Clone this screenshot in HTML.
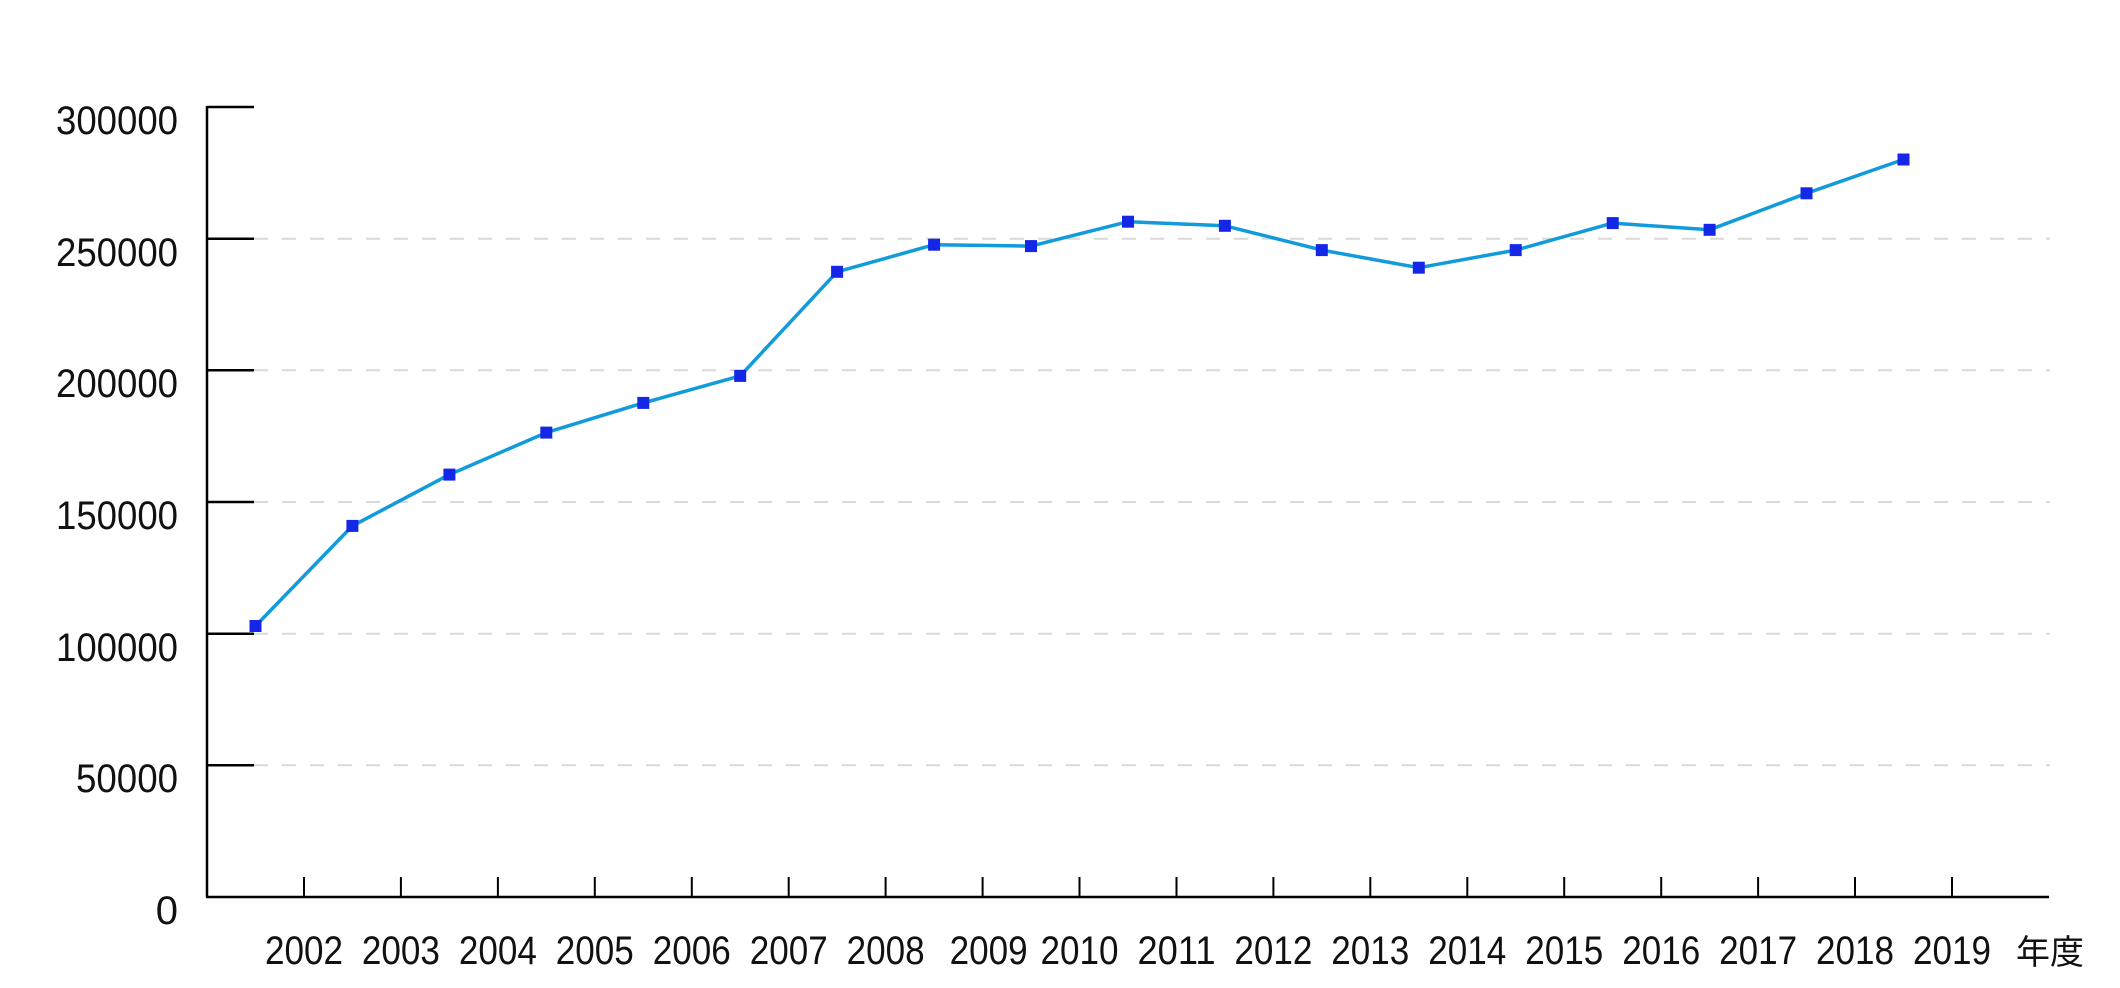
<!DOCTYPE html>
<html><head><meta charset="utf-8"><style>
html,body{margin:0;padding:0;background:#fff;}
svg{display:block;}
text{font-family:"Liberation Sans","Noto Sans CJK JP",sans-serif;font-size:40px;fill:#111;}
</style></head><body>
<svg width="2120" height="988" viewBox="0 0 2120 988" xmlns="http://www.w3.org/2000/svg">
<g stroke="#d9d9d9" stroke-width="2" stroke-dasharray="14,14">
<line x1="254" y1="238.7" x2="2050" y2="238.7"/>
<line x1="254" y1="370.3" x2="2050" y2="370.3"/>
<line x1="254" y1="502" x2="2050" y2="502"/>
<line x1="254" y1="633.7" x2="2050" y2="633.7"/>
<line x1="254" y1="765.3" x2="2050" y2="765.3"/>
</g>
<g stroke="#000" stroke-width="2.5" fill="none">
<line x1="207" y1="106" x2="207" y2="897"/>
<line x1="206" y1="897" x2="2049" y2="897"/>
<line x1="207" y1="107" x2="254" y2="107"/>
<line x1="207" y1="238.7" x2="254" y2="238.7"/>
<line x1="207" y1="370.3" x2="254" y2="370.3"/>
<line x1="207" y1="502" x2="254" y2="502"/>
<line x1="207" y1="633.7" x2="254" y2="633.7"/>
<line x1="207" y1="765.3" x2="254" y2="765.3"/>
</g>
<g stroke="#000" stroke-width="2">
<line x1="304" y1="877" x2="304" y2="897"/>
<line x1="400.9" y1="877" x2="400.9" y2="897"/>
<line x1="497.9" y1="877" x2="497.9" y2="897"/>
<line x1="594.8" y1="877" x2="594.8" y2="897"/>
<line x1="691.8" y1="877" x2="691.8" y2="897"/>
<line x1="788.7" y1="877" x2="788.7" y2="897"/>
<line x1="885.6" y1="877" x2="885.6" y2="897"/>
<line x1="982.6" y1="877" x2="982.6" y2="897"/>
<line x1="1079.5" y1="877" x2="1079.5" y2="897"/>
<line x1="1176.5" y1="877" x2="1176.5" y2="897"/>
<line x1="1273.4" y1="877" x2="1273.4" y2="897"/>
<line x1="1370.3" y1="877" x2="1370.3" y2="897"/>
<line x1="1467.3" y1="877" x2="1467.3" y2="897"/>
<line x1="1564.2" y1="877" x2="1564.2" y2="897"/>
<line x1="1661.2" y1="877" x2="1661.2" y2="897"/>
<line x1="1758.1" y1="877" x2="1758.1" y2="897"/>
<line x1="1855" y1="877" x2="1855" y2="897"/>
<line x1="1952" y1="877" x2="1952" y2="897"/>
</g>
<g text-anchor="end">
<text x="178" y="134" textLength="122" lengthAdjust="spacingAndGlyphs">300000</text>
<text x="178" y="266" textLength="122" lengthAdjust="spacingAndGlyphs">250000</text>
<text x="178" y="397" textLength="122" lengthAdjust="spacingAndGlyphs">200000</text>
<text x="178" y="529" textLength="122" lengthAdjust="spacingAndGlyphs">150000</text>
<text x="178" y="661" textLength="122" lengthAdjust="spacingAndGlyphs">100000</text>
<text x="178" y="792" textLength="102" lengthAdjust="spacingAndGlyphs">50000</text>
<text x="178" y="924">0</text>
</g>
<g text-anchor="middle">
<text x="304" y="964" textLength="78" lengthAdjust="spacingAndGlyphs">2002</text>
<text x="400.9" y="964" textLength="78" lengthAdjust="spacingAndGlyphs">2003</text>
<text x="497.9" y="964" textLength="78" lengthAdjust="spacingAndGlyphs">2004</text>
<text x="594.8" y="964" textLength="78" lengthAdjust="spacingAndGlyphs">2005</text>
<text x="691.8" y="964" textLength="78" lengthAdjust="spacingAndGlyphs">2006</text>
<text x="788.7" y="964" textLength="78" lengthAdjust="spacingAndGlyphs">2007</text>
<text x="885.6" y="964" textLength="78" lengthAdjust="spacingAndGlyphs">2008</text>
<text x="988.6" y="964" textLength="78" lengthAdjust="spacingAndGlyphs">2009</text>
<text x="1079.5" y="964" textLength="78" lengthAdjust="spacingAndGlyphs">2010</text>
<text x="1176.5" y="964" textLength="78" lengthAdjust="spacingAndGlyphs">2011</text>
<text x="1273.4" y="964" textLength="78" lengthAdjust="spacingAndGlyphs">2012</text>
<text x="1370.3" y="964" textLength="78" lengthAdjust="spacingAndGlyphs">2013</text>
<text x="1467.3" y="964" textLength="78" lengthAdjust="spacingAndGlyphs">2014</text>
<text x="1564.2" y="964" textLength="78" lengthAdjust="spacingAndGlyphs">2015</text>
<text x="1661.2" y="964" textLength="78" lengthAdjust="spacingAndGlyphs">2016</text>
<text x="1758.1" y="964" textLength="78" lengthAdjust="spacingAndGlyphs">2017</text>
<text x="1855" y="964" textLength="78" lengthAdjust="spacingAndGlyphs">2018</text>
<text x="1952" y="964" textLength="78" lengthAdjust="spacingAndGlyphs">2019</text>
</g>
<text x="2050" y="964" text-anchor="middle" style="font-size:34px">年度</text>
<polyline fill="none" stroke="#129bdb" stroke-width="3.5" stroke-linejoin="round" points="255.5,626 352.4,525.9 449.4,474.6 546.3,432.6 643.3,402.9 740.2,375.9 837.1,271.8 934.1,244.7 1031,246.1 1128,221.7 1224.9,225.8 1321.8,250.1 1418.8,267.7 1515.7,250.1 1612.7,223.1 1709.6,229.8 1806.5,193.3 1903.5,159.5"/>
<g fill="#1427e6">
<rect x="249.5" y="620" width="12" height="12"/>
<rect x="346.4" y="519.9" width="12" height="12"/>
<rect x="443.4" y="468.6" width="12" height="12"/>
<rect x="540.3" y="426.6" width="12" height="12"/>
<rect x="637.3" y="396.9" width="12" height="12"/>
<rect x="734.2" y="369.9" width="12" height="12"/>
<rect x="831.1" y="265.8" width="12" height="12"/>
<rect x="928.1" y="238.7" width="12" height="12"/>
<rect x="1025" y="240.1" width="12" height="12"/>
<rect x="1122" y="215.7" width="12" height="12"/>
<rect x="1218.9" y="219.8" width="12" height="12"/>
<rect x="1315.8" y="244.1" width="12" height="12"/>
<rect x="1412.8" y="261.7" width="12" height="12"/>
<rect x="1509.7" y="244.1" width="12" height="12"/>
<rect x="1606.7" y="217.1" width="12" height="12"/>
<rect x="1703.6" y="223.8" width="12" height="12"/>
<rect x="1800.5" y="187.3" width="12" height="12"/>
<rect x="1897.5" y="153.5" width="12" height="12"/>
</g>
</svg>
</body></html>
